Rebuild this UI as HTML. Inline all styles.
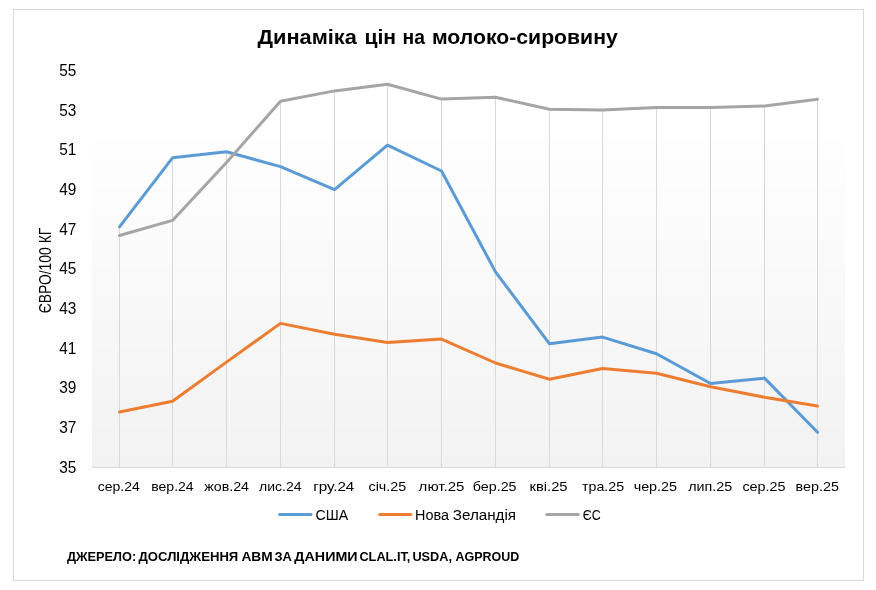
<!DOCTYPE html>
<html><head><meta charset="utf-8"><style>
html,body{margin:0;padding:0;background:#fff;width:876px;height:590px;overflow:hidden}
svg{display:block}
text{font-family:"Liberation Sans",sans-serif;fill:#000}
</style></head><body>
<svg width="876" height="590" viewBox="0 0 876 590">
<rect x="0" y="0" width="876" height="590" fill="#fff"/>
<rect x="13.5" y="9.5" width="850" height="571" fill="#fff" stroke="#d9d9d9" stroke-width="1"/>
<g shape-rendering="crispEdges"><rect x="92" y="139" width="753" height="22" fill="#fefefe"/><rect x="92" y="161" width="753" height="26" fill="#fdfdfd"/><rect x="92" y="187" width="753" height="27" fill="#fcfcfc"/><rect x="92" y="214" width="753" height="27" fill="#fbfbfb"/><rect x="92" y="241" width="753" height="26" fill="#fafafa"/><rect x="92" y="267" width="753" height="27" fill="#f9f9f9"/><rect x="92" y="294" width="753" height="27" fill="#f8f8f8"/><rect x="92" y="321" width="753" height="26" fill="#f7f7f7"/><rect x="92" y="347" width="753" height="27" fill="#f6f6f6"/><rect x="92" y="374" width="753" height="27" fill="#f5f5f5"/><rect x="92" y="401" width="753" height="26" fill="#f4f4f4"/><rect x="92" y="427" width="753" height="27" fill="#f3f3f3"/><rect x="92" y="454" width="753" height="13" fill="#f2f2f2"/></g>
<g stroke="#d9d9d9" stroke-width="1" shape-rendering="crispEdges">
<line x1="119.5" y1="226.8" x2="119.5" y2="467"/>
<line x1="172.5" y1="157.8" x2="172.5" y2="467"/>
<line x1="226.5" y1="151.8" x2="226.5" y2="467"/>
<line x1="280.5" y1="101.3" x2="280.5" y2="467"/>
<line x1="334.5" y1="90.9" x2="334.5" y2="467"/>
<line x1="387.5" y1="84.3" x2="387.5" y2="467"/>
<line x1="441.5" y1="99.1" x2="441.5" y2="467"/>
<line x1="495.5" y1="97.3" x2="495.5" y2="467"/>
<line x1="549.5" y1="109.2" x2="549.5" y2="467"/>
<line x1="602.5" y1="110.1" x2="602.5" y2="467"/>
<line x1="656.5" y1="107.4" x2="656.5" y2="467"/>
<line x1="710.5" y1="107.4" x2="710.5" y2="467"/>
<line x1="764.5" y1="106.1" x2="764.5" y2="467"/>
<line x1="817.5" y1="99.2" x2="817.5" y2="467"/>
<line x1="92" y1="467.5" x2="845" y2="467.5"/>
</g>
<g fill="none" stroke-width="3" stroke-linejoin="round" stroke-linecap="round">
<polyline stroke="#5B9BD5" points="119.5,226.8 172.5,157.8 226.5,151.8 280.5,166.6 334.5,189.7 387.5,145.2 441.5,171.0 495.5,271.9 549.5,343.8 602.5,337.1 656.5,353.8 710.5,383.5 764.5,378.1 817.5,432.3"/>
<polyline stroke="#ED7D31" points="119.5,412.0 172.5,401.3 226.5,362.1 280.5,323.4 334.5,334.3 387.5,342.5 441.5,339.1 495.5,363.0 549.5,379.2 602.5,368.5 656.5,373.3 710.5,386.8 764.5,397.2 817.5,406.1"/>
<polyline stroke="#A5A5A5" points="119.5,235.5 172.5,220.4 226.5,162.4 280.5,101.3 334.5,90.9 387.5,84.3 441.5,99.1 495.5,97.3 549.5,109.2 602.5,110.1 656.5,107.4 710.5,107.4 764.5,106.1 817.5,99.2"/>
</g>
<text x="59.2" y="472.80" font-size="15.8" textLength="17.1" lengthAdjust="spacingAndGlyphs">35</text>
<text x="59.2" y="433.10" font-size="15.8" textLength="17.1" lengthAdjust="spacingAndGlyphs">37</text>
<text x="59.2" y="393.40" font-size="15.8" textLength="17.1" lengthAdjust="spacingAndGlyphs">39</text>
<text x="59.2" y="353.70" font-size="15.8" textLength="17.1" lengthAdjust="spacingAndGlyphs">41</text>
<text x="59.2" y="314.00" font-size="15.8" textLength="17.1" lengthAdjust="spacingAndGlyphs">43</text>
<text x="59.2" y="274.30" font-size="15.8" textLength="17.1" lengthAdjust="spacingAndGlyphs">45</text>
<text x="59.2" y="234.60" font-size="15.8" textLength="17.1" lengthAdjust="spacingAndGlyphs">47</text>
<text x="59.2" y="194.90" font-size="15.8" textLength="17.1" lengthAdjust="spacingAndGlyphs">49</text>
<text x="59.2" y="155.20" font-size="15.8" textLength="17.1" lengthAdjust="spacingAndGlyphs">51</text>
<text x="59.2" y="115.50" font-size="15.8" textLength="17.1" lengthAdjust="spacingAndGlyphs">53</text>
<text x="59.2" y="75.80" font-size="15.8" textLength="17.1" lengthAdjust="spacingAndGlyphs">55</text>
<text x="97.85" y="491.00" font-size="13" textLength="41.94" lengthAdjust="spacingAndGlyphs">сер.24</text>
<text x="151.26" y="491.00" font-size="13" textLength="42.42" lengthAdjust="spacingAndGlyphs">вер.24</text>
<text x="204.24" y="491.00" font-size="13" textLength="44.81" lengthAdjust="spacingAndGlyphs">жов.24</text>
<text x="259.06" y="491.00" font-size="13" textLength="42.45" lengthAdjust="spacingAndGlyphs">лис.24</text>
<text x="313.22" y="491.00" font-size="13" textLength="41.12" lengthAdjust="spacingAndGlyphs">гру.24</text>
<text x="368.46" y="491.00" font-size="13" textLength="37.78" lengthAdjust="spacingAndGlyphs">січ.25</text>
<text x="418.63" y="491.00" font-size="13" textLength="45.75" lengthAdjust="spacingAndGlyphs">лют.25</text>
<text x="472.84" y="491.00" font-size="13" textLength="43.73" lengthAdjust="spacingAndGlyphs">бер.25</text>
<text x="529.43" y="491.00" font-size="13" textLength="38.19" lengthAdjust="spacingAndGlyphs">кві.25</text>
<text x="582.03" y="491.00" font-size="13" textLength="42.07" lengthAdjust="spacingAndGlyphs">тра.25</text>
<text x="633.65" y="491.00" font-size="13" textLength="43.45" lengthAdjust="spacingAndGlyphs">чер.25</text>
<text x="688.24" y="491.00" font-size="13" textLength="44.07" lengthAdjust="spacingAndGlyphs">лип.25</text>
<text x="742.44" y="491.00" font-size="13" textLength="43.17" lengthAdjust="spacingAndGlyphs">сер.25</text>
<text x="795.64" y="491.00" font-size="13" textLength="43.24" lengthAdjust="spacingAndGlyphs">вер.25</text>
<g transform="translate(50.8,312.3) rotate(-90)"><text x="-1.00" y="0.00" font-size="16.5" textLength="85.56" lengthAdjust="spacingAndGlyphs">ЄВРО/100 КГ</text></g>
<text x="257.52" y="43.60" font-size="20.5" font-weight="bold" textLength="99.29" lengthAdjust="spacingAndGlyphs">Динаміка</text>
<text x="364.42" y="43.60" font-size="20.5" font-weight="bold" textLength="31.66" lengthAdjust="spacingAndGlyphs">цін</text>
<text x="402.55" y="43.60" font-size="20.5" font-weight="bold" textLength="22.40" lengthAdjust="spacingAndGlyphs">на</text>
<text x="431.94" y="43.60" font-size="20.5" font-weight="bold" textLength="185.82" lengthAdjust="spacingAndGlyphs">молоко-сировину</text>
<g stroke-width="3" stroke-linecap="round">
<line x1="279.7" y1="514.5" x2="310.9" y2="514.5" stroke="#5B9BD5"/>
<line x1="379.7" y1="514.5" x2="410.8" y2="514.5" stroke="#ED7D31"/>
<line x1="546.7" y1="514.5" x2="578.3" y2="514.5" stroke="#A5A5A5"/>
</g>
<text x="315.58" y="519.80" font-size="15.5" textLength="32.69" lengthAdjust="spacingAndGlyphs">США</text>
<text x="415.08" y="519.80" font-size="15.5" textLength="33.98" lengthAdjust="spacingAndGlyphs">Нова</text>
<text x="452.76" y="519.80" font-size="15.5" textLength="63.34" lengthAdjust="spacingAndGlyphs">Зеландія</text>
<text x="582.68" y="519.80" font-size="15.5" textLength="17.97" lengthAdjust="spacingAndGlyphs">ЄС</text>
<text x="67.00" y="560.80" font-size="11.9" font-weight="bold" textLength="69.22" lengthAdjust="spacingAndGlyphs">ДЖЕРЕЛО:</text>
<text x="138.51" y="560.80" font-size="11.9" font-weight="bold" textLength="99.79" lengthAdjust="spacingAndGlyphs">ДОСЛІДЖЕННЯ</text>
<text x="241.42" y="560.80" font-size="11.9" font-weight="bold" textLength="31.26" lengthAdjust="spacingAndGlyphs">АВМ</text>
<text x="274.44" y="560.80" font-size="11.9" font-weight="bold" textLength="17.41" lengthAdjust="spacingAndGlyphs">ЗА</text>
<text x="294.39" y="560.80" font-size="11.9" font-weight="bold" textLength="63.21" lengthAdjust="spacingAndGlyphs">ДАНИМИ</text>
<text x="359.45" y="560.80" font-size="11.9" font-weight="bold" textLength="50.87" lengthAdjust="spacingAndGlyphs">CLAL.IT,</text>
<text x="412.44" y="560.80" font-size="11.9" font-weight="bold" textLength="39.55" lengthAdjust="spacingAndGlyphs">USDA,</text>
<text x="455.48" y="560.80" font-size="11.9" font-weight="bold" textLength="63.82" lengthAdjust="spacingAndGlyphs">AGPROUD</text>
</svg>
</body></html>
